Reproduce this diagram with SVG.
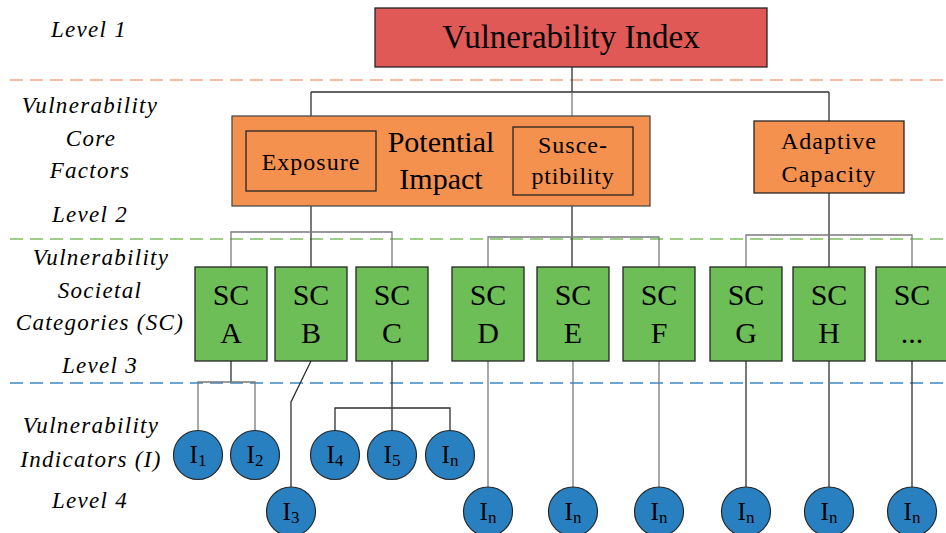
<svg xmlns="http://www.w3.org/2000/svg" width="946" height="533" viewBox="0 0 946 533">
<style>
text{fill:#000}
.lbl{font-style:italic;font-size:23px;letter-spacing:1.3px;text-anchor:middle}
.box{stroke:#262626;stroke-width:1.3}
.red{fill:#E05956}
.org{fill:#F5914F}
.grn{fill:#6DBE57}
.ind{fill:#2980C0;stroke:#262626;stroke-width:1.2}
.sc{font-size:30px;text-anchor:middle}
.it{font-size:25px;text-anchor:middle}
.con line,.con polyline{stroke:#303030;stroke-width:1.3;fill:none}
.con .g{stroke:#7a7a7a}
.dash{stroke-width:1.3;stroke-dasharray:13 7}
</style>
<g font-family="Liberation Serif, Times New Roman, Times, DejaVu Serif, serif">
<!-- level separators -->
<line class="dash" x1="10" y1="80" x2="946" y2="80" stroke="#F4A683"/>
<line class="dash" x1="10" y1="239" x2="946" y2="239" stroke="#7DBF63"/>
<line class="dash" x1="10" y1="383" x2="946" y2="383" stroke="#3C87C6"/>

<!-- left labels -->
<g id="labels">
<text class="lbl" x="89" y="37">Level 1</text>
<text class="lbl" x="90" y="113">Vulnerability</text>
<text class="lbl" x="91" y="146">Core</text>
<text class="lbl" x="90" y="178">Factors</text>
<text class="lbl" x="90" y="222">Level 2</text>
<text class="lbl" x="101" y="265">Vulnerability</text>
<text class="lbl" x="100" y="298">Societal</text>
<text class="lbl" x="100" y="330">Categories (SC)</text>
<text class="lbl" x="100" y="373">Level 3</text>
<text class="lbl" x="91" y="433">Vulnerability</text>
<text class="lbl" x="91" y="467">Indicators (I)</text>
<text class="lbl" x="90" y="508">Level 4</text>
</g>

<!-- connectors -->
<g id="connectors" class="con">
<line x1="572" y1="67" x2="572" y2="92"/>
<line x1="311" y1="92" x2="829" y2="92"/>
<line x1="311" y1="92" x2="311" y2="131"/>
<line class="g" x1="572" y1="92" x2="572" y2="127"/>
<line x1="829" y1="92" x2="829" y2="121"/>

<line x1="311" y1="191" x2="311" y2="267"/>
<polyline class="g" points="231,267 231,232 392,232 392,267"/>

<line x1="572" y1="195" x2="572" y2="267"/>
<polyline class="g" points="488,267 488,237 659,237 659,267"/>

<line x1="829" y1="193" x2="829" y2="267"/>
<polyline class="g" points="746,267 746,235 912,235 912,267"/>

<line x1="231" y1="361" x2="231" y2="382"/>
<polyline class="g" points="198,431 198,382 255,382 255,431"/>
<polyline points="311,361 291,402 291,487"/>
<line x1="392" y1="361" x2="392" y2="431"/>
<polyline points="335,431 335,408 450,408 450,431"/>

<line class="g" x1="488" y1="361" x2="488" y2="487"/>
<line class="g" x1="573" y1="361" x2="573" y2="487"/>
<line class="g" x1="659" y1="361" x2="659" y2="487"/>
<line x1="746" y1="361" x2="746" y2="487"/>
<line x1="829" y1="361" x2="829" y2="487"/>
<line x1="912" y1="361" x2="912" y2="487"/>
</g>

<!-- level 1 -->
<g id="vulnerability-index">
<rect class="box red" x="375" y="8" width="392" height="59"/>
<text x="571" y="48" font-size="33" text-anchor="middle">Vulnerability Index</text>
</g>

<!-- level 2 -->
<g id="potential-impact">
<rect class="org" x="232" y="116" width="418" height="90" stroke="#4d4d4d" stroke-width="1.3"/>
<text x="441" y="152" font-size="30" text-anchor="middle">Potential</text>
<text x="441" y="189" font-size="30" text-anchor="middle">Impact</text>
</g>
<g id="exposure">
<rect class="box org" x="246" y="131" width="130" height="60"/>
<text x="311" y="170" font-size="24" letter-spacing="1" text-anchor="middle">Exposure</text>
</g>
<g id="susceptibility">
<rect class="box org" x="513" y="127" width="120" height="68"/>
<text x="573" y="153" font-size="24" letter-spacing="1" text-anchor="middle">Susce-</text>
<text x="573" y="184" font-size="24" letter-spacing="0.8" text-anchor="middle">ptibility</text>
</g>
<g id="adaptive-capacity">
<rect class="box org" x="754" y="121" width="150" height="72"/>
<text x="829" y="149" font-size="24" letter-spacing="1" text-anchor="middle">Adaptive</text>
<text x="829" y="182" font-size="24" letter-spacing="1.2" text-anchor="middle">Capacity</text>
</g>

<!-- level 3 -->
<g id="sc-a"><rect class="box grn" x="195" y="267" width="72" height="94"/><text class="sc" x="231" y="305">SC</text><text class="sc" x="231" y="343">A</text></g>
<g id="sc-b"><rect class="box grn" x="275" y="267" width="72" height="94"/><text class="sc" x="311" y="305">SC</text><text class="sc" x="311" y="343">B</text></g>
<g id="sc-c"><rect class="box grn" x="356" y="267" width="72" height="94"/><text class="sc" x="392" y="305">SC</text><text class="sc" x="392" y="343">C</text></g>
<g id="sc-d"><rect class="box grn" x="452" y="267" width="72" height="94"/><text class="sc" x="488" y="305">SC</text><text class="sc" x="488" y="343">D</text></g>
<g id="sc-e"><rect class="box grn" x="537" y="267" width="72" height="94"/><text class="sc" x="573" y="305">SC</text><text class="sc" x="573" y="343">E</text></g>
<g id="sc-f"><rect class="box grn" x="623" y="267" width="72" height="94"/><text class="sc" x="659" y="305">SC</text><text class="sc" x="659" y="343">F</text></g>
<g id="sc-g"><rect class="box grn" x="710" y="267" width="72" height="94"/><text class="sc" x="746" y="305">SC</text><text class="sc" x="746" y="343">G</text></g>
<g id="sc-h"><rect class="box grn" x="793" y="267" width="72" height="94"/><text class="sc" x="829" y="305">SC</text><text class="sc" x="829" y="343">H</text></g>
<g id="sc-more"><rect class="box grn" x="876" y="267" width="74" height="94"/><text class="sc" x="912" y="305">SC</text><text class="sc" x="912" y="343">...</text></g>

<!-- level 4 -->
<g id="i1"><circle class="ind" cx="198" cy="455" r="24.5"/><text class="it" x="198" y="463">I<tspan font-size="17" dy="3">1</tspan></text></g>
<g id="i2"><circle class="ind" cx="255" cy="455" r="24.5"/><text class="it" x="255" y="463">I<tspan font-size="17" dy="3">2</tspan></text></g>
<g id="i3"><circle class="ind" cx="291" cy="511.5" r="24.5"/><text class="it" x="291" y="519.5">I<tspan font-size="17" dy="3">3</tspan></text></g>
<g id="i4"><circle class="ind" cx="335" cy="455" r="24.5"/><text class="it" x="335" y="463">I<tspan font-size="17" dy="3">4</tspan></text></g>
<g id="i5"><circle class="ind" cx="392" cy="455" r="24.5"/><text class="it" x="392" y="463">I<tspan font-size="17" dy="3">5</tspan></text></g>
<g id="in-c"><circle class="ind" cx="450" cy="455" r="24.5"/><text class="it" x="450" y="463">I<tspan font-size="17" dy="3">n</tspan></text></g>
<g id="in-d"><circle class="ind" cx="488" cy="511.5" r="24.5"/><text class="it" x="488" y="519.5">I<tspan font-size="17" dy="3">n</tspan></text></g>
<g id="in-e"><circle class="ind" cx="573" cy="511.5" r="24.5"/><text class="it" x="573" y="519.5">I<tspan font-size="17" dy="3">n</tspan></text></g>
<g id="in-f"><circle class="ind" cx="659" cy="511.5" r="24.5"/><text class="it" x="659" y="519.5">I<tspan font-size="17" dy="3">n</tspan></text></g>
<g id="in-g"><circle class="ind" cx="746" cy="511.5" r="24.5"/><text class="it" x="746" y="519.5">I<tspan font-size="17" dy="3">n</tspan></text></g>
<g id="in-h"><circle class="ind" cx="829" cy="511.5" r="24.5"/><text class="it" x="829" y="519.5">I<tspan font-size="17" dy="3">n</tspan></text></g>
<g id="in-more"><circle class="ind" cx="912" cy="511.5" r="24.5"/><text class="it" x="912" y="519.5">I<tspan font-size="17" dy="3">n</tspan></text></g>
</g>
</svg>
